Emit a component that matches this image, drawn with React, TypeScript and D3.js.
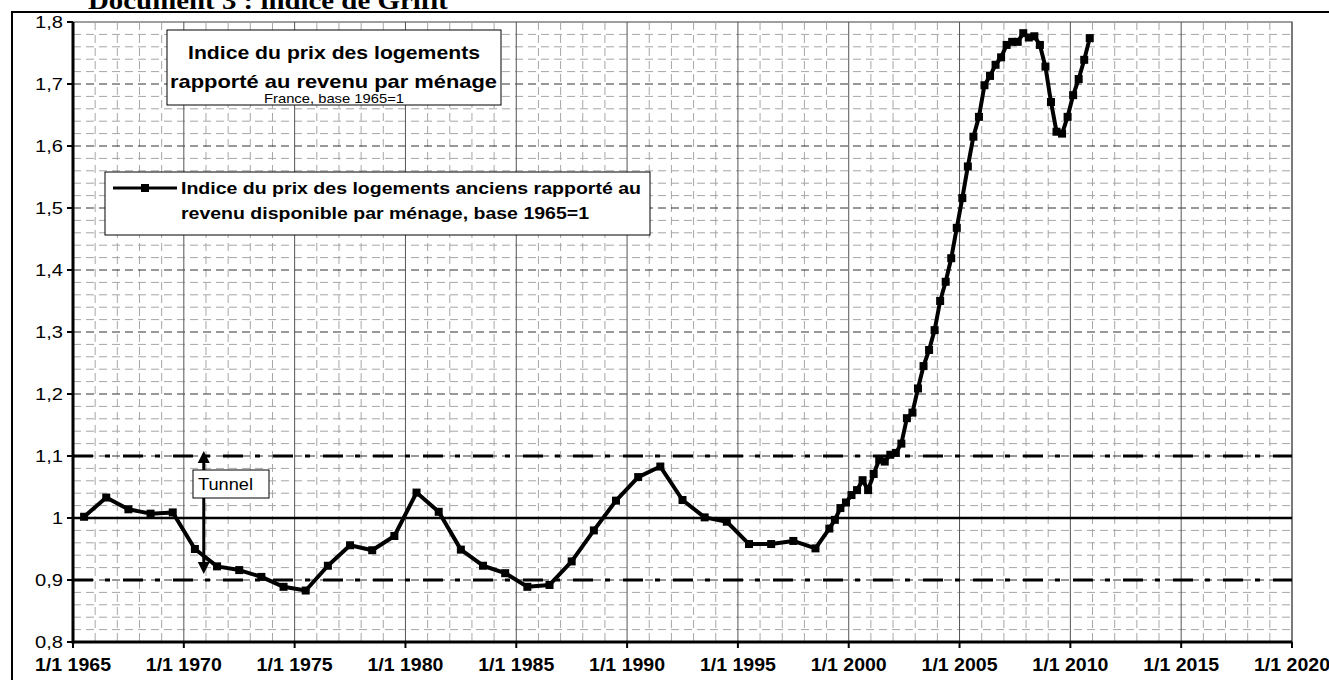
import React from "react";
import * as d3 from "d3";

// annual points (plotted mid-year)
const annualYears = [1965, 1966, 1967, 1968, 1969, 1970, 1971, 1972, 1973, 1974, 1975, 1976,
  1977, 1978, 1979, 1980, 1981, 1982, 1983, 1984, 1985, 1986, 1987, 1988, 1989, 1990, 1991,
  1992, 1993, 1994, 1995, 1996, 1997, 1998];
const annualValues = [1.002, 1.033, 1.014, 1.007, 1.009, 0.95, 0.922, 0.916, 0.905, 0.889, 0.883,
  0.923, 0.956, 0.948, 0.971, 1.041, 1.01, 0.949, 0.923, 0.911, 0.889, 0.892, 0.93, 0.98, 1.028,
  1.066, 1.083, 1.029, 1.001, 0.994, 0.958, 0.958, 0.963, 0.951];

// quarterly points from 1999
const quarterLabels = [
  "1999T1", "1999T2", "1999T3", "1999T4", "2000T1", "2000T2", "2000T3", "2000T4",
  "2001T1", "2001T2", "2001T3", "2001T4", "2002T1", "2002T2", "2002T3", "2002T4",
  "2003T1", "2003T2", "2003T3", "2003T4", "2004T1", "2004T2", "2004T3", "2004T4",
  "2005T1", "2005T2", "2005T3", "2005T4", "2006T1", "2006T2", "2006T3", "2006T4",
  "2007T1", "2007T2", "2007T3", "2007T4", "2008T1", "2008T2", "2008T3", "2008T4",
  "2009T1", "2009T2", "2009T3", "2009T4", "2010T1", "2010T2", "2010T3", "2010T4"];
const quarterValues = [
  0.983, 0.997, 1.016, 1.025, 1.037, 1.045, 1.061, 1.045,
  1.071, 1.094, 1.091, 1.102, 1.105, 1.12, 1.161, 1.17,
  1.209, 1.245, 1.271, 1.303, 1.35, 1.381, 1.419, 1.468,
  1.516, 1.567, 1.615, 1.647, 1.698, 1.713, 1.731, 1.743,
  1.763, 1.768, 1.768, 1.782, 1.775, 1.777, 1.763, 1.728,
  1.671, 1.623, 1.62, 1.647, 1.682, 1.708, 1.739, 1.774];

const xTickYears = [1965, 1970, 1975, 1980, 1985, 1990, 1995, 2000, 2005, 2010, 2015, 2020];
const yTickValues = [0.8, 0.9, 1, 1.1, 1.2, 1.3, 1.4, 1.5, 1.6, 1.7, 1.8];
const tunnelBounds = [0.9, 1.1];
const baseValue = 1;

const layout = { width: 1329, height: 680, left: 73, right: 1292, top: 22, bottom: 642 };
const sans = "'Liberation Sans', Arial, sans-serif";

export default function App() {
  const x = d3.scaleLinear().domain([1965, 2020]).range([layout.left, layout.right]);
  const y = d3.scaleLinear().domain([0.8, 1.8]).range([layout.bottom, layout.top]);

  const points = [
    ...annualYears.map((yr, i) => ({ t: yr + 0.5, v: annualValues[i] })),
    ...quarterLabels.map((q, i) => {
      const [yr, qq] = q.split("T").map(Number);
      return { t: yr + (qq - 0.5) / 4, v: quarterValues[i] };
    }),
  ];
  const line = d3.line<any>().x(d => x(d.t)).y(d => y(d.v));

  const minorYears = d3.range(1966, 2020).filter(yr => yr % 5 !== 0);
  const minorValues = d3.range(41, 90).filter(k => k % 5 !== 0).map(k => k / 50);
  const fmt = (v: number) => String(Math.round(v * 10) / 10).replace(".", ",");
  // labels in the source are a bit wider than Arial: stretch them
  const labelWidth = (s: string) => (s.length === 1 ? 11 : 28);

  const arrowX = x(1970.9);
  const tunnelTop = y(1.1) - 5;
  const tunnelBottom = y(0.9) - 6;

  return (
    <svg width={layout.width} height={layout.height}
      style={{ position: "absolute", left: 0, top: 0, background: "#fff" }}>
      <text x={88} y={9} fontFamily="'Liberation Serif', serif" fontWeight="bold" fontSize={25}
        textLength={360} lengthAdjust="spacingAndGlyphs">
        Document 3 : indice de Grifit
      </text>
      <rect x={12} y={12} width={1340} height={720} fill="none" stroke="#000" strokeWidth={2} />

      {/* plot area */}
      <rect x={layout.left} y={layout.top} width={layout.right - layout.left}
        height={layout.bottom - layout.top} fill="#fff" stroke="#808080" strokeWidth={1.5} />

      {minorValues.map(v => (
        <line key={"mh" + v} x1={layout.left} x2={layout.right} y1={y(v)} y2={y(v)}
          stroke="#a6a6a6" strokeWidth={1} strokeDasharray="8,5" />
      ))}
      {minorYears.map(yr => (
        <line key={"mv" + yr} x1={x(yr)} x2={x(yr)} y1={layout.top} y2={layout.bottom}
          stroke="#a6a6a6" strokeWidth={1} strokeDasharray="8,5" />
      ))}
      {yTickValues.slice(1, -1).map(v => (
        <line key={"gh" + v} x1={layout.left} x2={layout.right} y1={y(v)} y2={y(v)}
          stroke="#333" strokeWidth={1} strokeDasharray="8,5" />
      ))}
      {xTickYears.slice(1).map(yr => (
        <line key={"gv" + yr} x1={x(yr)} x2={x(yr)} y1={layout.top} y2={layout.bottom}
          stroke="#555" strokeWidth={1} />
      ))}

      {/* tunnel and base */}
      {tunnelBounds.map(v => (
        <line key={"tb" + v} x1={layout.left} x2={layout.right} y1={y(v)} y2={y(v)}
          stroke="#000" strokeWidth={3} strokeDasharray="20,12,5,13" />
      ))}
      <line x1={layout.left} x2={layout.right} y1={y(baseValue)} y2={y(baseValue)}
        stroke="#000" strokeWidth={2.5} />

      {/* axes */}
      <line x1={layout.left} x2={layout.right} y1={layout.bottom} y2={layout.bottom}
        stroke="#000" strokeWidth={3} />
      <line x1={layout.left} x2={layout.left} y1={layout.top} y2={layout.bottom + 1.5}
        stroke="#000" strokeWidth={3} />
      {xTickYears.map(yr => (
        <g key={"xt" + yr}>
          <line x1={x(yr)} x2={x(yr)} y1={layout.bottom} y2={layout.bottom + 6} stroke="#000" strokeWidth={2} />
          <text x={x(yr) - 38} y={layout.bottom + 29} fontFamily={sans}
            fontWeight="bold" fontSize={18} textLength={76} lengthAdjust="spacingAndGlyphs">
            {"1/1 " + yr}
          </text>
        </g>
      ))}
      {yTickValues.map(v => (
        <g key={"yt" + v}>
          <line x1={layout.left - 6} x2={layout.left} y1={y(v)} y2={y(v)} stroke="#000" strokeWidth={2} />
          <text x={layout.left - 10 - labelWidth(fmt(v))} y={y(v) + 6} fontFamily={sans} fontSize={17}
            textLength={labelWidth(fmt(v))} lengthAdjust="spacingAndGlyphs">
            {fmt(v)}
          </text>
        </g>
      ))}

      {/* series */}
      <path d={line(points) || ""} fill="none" stroke="#000" strokeWidth={4} strokeLinejoin="round" />
      {points.map((p, i) => (
        <rect key={"pt" + i} x={x(p.t) - 4} y={y(p.v) - 4} width={8} height={8} fill="#000" />
      ))}

      {/* tunnel annotation */}
      <line x1={arrowX} x2={arrowX} y1={tunnelTop + 10} y2={tunnelBottom - 10} stroke="#000" strokeWidth={3} />
      <path d={`M${arrowX},${tunnelTop} l-6,12 h12 z`} fill="#000" />
      <path d={`M${arrowX},${tunnelBottom} l-6,-12 h12 z`} fill="#000" />
      <rect x={193} y={470} width={76} height={28} fill="#fff" stroke="#000" strokeWidth={1} />
      <text x={198} y={490} fontFamily={sans} fontSize={17} textLength={55} lengthAdjust="spacingAndGlyphs">
        Tunnel
      </text>

      {/* title box */}
      <rect x={167} y={30} width={334} height={75} fill="#fff" stroke="#000" strokeWidth={1} />
      <text x={188} y={59} fontFamily={sans} fontWeight="bold" fontSize={19}
        textLength={292} lengthAdjust="spacingAndGlyphs">
        Indice du prix des logements
      </text>
      <text x={170} y={88} fontFamily={sans} fontWeight="bold" fontSize={19}
        textLength={327} lengthAdjust="spacingAndGlyphs">
        rapporté au revenu par ménage
      </text>
      <text x={264} y={102.5} fontFamily={sans} fontSize={13}
        textLength={140} lengthAdjust="spacingAndGlyphs">
        France, base 1965=1
      </text>

      {/* legend */}
      <rect x={105} y={172} width={545} height={63} fill="#fff" stroke="#000" strokeWidth={1} />
      <line x1={113} x2={177} y1={188} y2={188} stroke="#000" strokeWidth={3} />
      <rect x={141} y={184} width={8} height={8} fill="#000" />
      <text x={181} y={194} fontFamily={sans} fontWeight="bold" fontSize={17}
        textLength={460} lengthAdjust="spacingAndGlyphs">
        Indice du prix des logements anciens rapporté au
      </text>
      <text x={181} y={219} fontFamily={sans} fontWeight="bold" fontSize={17}
        textLength={408} lengthAdjust="spacingAndGlyphs">
        revenu disponible par ménage, base 1965=1
      </text>
    </svg>
  );
}
